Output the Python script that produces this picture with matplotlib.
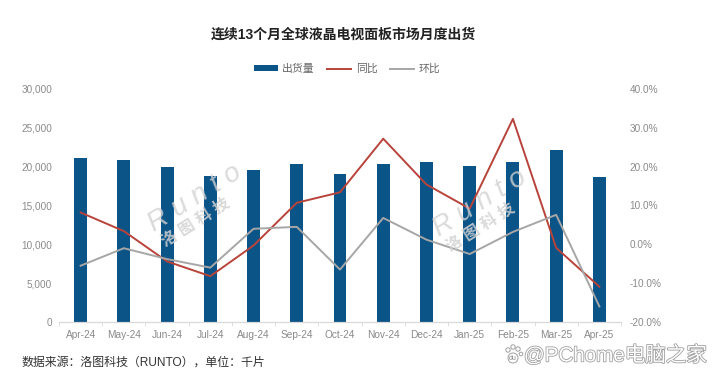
import matplotlib
matplotlib.use('Agg')
from matplotlib import pyplot as plt
from matplotlib import patheffects
from matplotlib.patches import Circle
from matplotlib.transforms import IdentityTransform

plt.rcParams['font.family'] = ['Liberation Sans', 'Noto Sans CJK SC', 'DejaVu Sans']

### chart data
months = ['Apr-24', 'May-24', 'Jun-24', 'Jul-24', 'Aug-24', 'Sep-24', 'Oct-24',
          'Nov-24', 'Dec-24', 'Jan-25', 'Feb-25', 'Mar-25', 'Apr-25']
shipments = [21100, 20860, 20000, 18800, 19530, 20380, 19060,
             20300, 20600, 20090, 20600, 22150, 18670]
yoy = [8.2, 3.4, -4.4, -8.2, -0.3, 10.7, 13.4, 27.2, 15.4, 9.2, 32.3, -0.9, -10.9]
mom = [-5.5, -1.0, -3.8, -6.0, 4.0, 4.5, -6.5, 6.8, 1.2, -2.5, 3.2, 7.6, -16.0]

left_ticks = [0, 5000, 10000, 15000, 20000, 25000, 30000]
right_ticks = [-20, -10, 0, 10, 20, 30, 40]

title = '连续13个月全球液晶电视面板市场月度出货'
source = '数据来源：洛图科技（RUNTO），单位：千片'

bar_color = '#0b5488'
red = '#b8433a'
gray = '#a6a6a6'
tick_color = '#8a8a8a'

fig = plt.figure(figsize=(7.2, 3.8), dpi=100)
ax = fig.add_axes([59 / 720, 1 - 322 / 380, 562 / 720, 233 / 380])
ax2 = ax.twinx()

# bars on the left axis, both lines on the right axis
ax.bar(months, shipments, width=0.3, color=bar_color, label='出货量', zorder=2)
ax2.plot(months, yoy, color=red, linewidth=1.4, label='同比', zorder=3)
ax2.plot(months, mom, color=gray, linewidth=1.4, label='环比', zorder=3)

ax.set_xlim(-0.5, 12.5)
ax.set_ylim(0, 30000)
ax2.set_ylim(-20, 40)
ax.set_yticks(left_ticks)
ax.set_yticklabels([f'{v:,}' for v in left_ticks])
ax2.set_yticks(right_ticks)
ax2.set_yticklabels([f'{v:.1f}%' for v in right_ticks])

for a in (ax, ax2):
    for side in ('top', 'left', 'right'):
        a.spines[side].set_visible(False)
    a.spines['bottom'].set_color('#d9d9d9')
    a.tick_params(axis='y', length=0, labelsize=7.2, labelcolor=tick_color, pad=5)
ax2.tick_params(axis='y', pad=6)

# axis ticks sit between the months
ax.set_xticks([i - 0.5 for i in range(14)], minor=True)
ax.tick_params(axis='x', which='minor', length=3, color='#d9d9d9')
ax.tick_params(axis='x', which='major', length=0, labelsize=7.3, labelcolor=tick_color, pad=6)

fig.text(343 / 720, 1 - 35 / 380, title, ha='center', va='center', fontsize=10,
         fontweight='bold', color='#222222')
fig.text(22 / 720, 1 - 363 / 380, source, ha='left', va='center', fontsize=8.6, color='#333333')

handles = ax.get_legend_handles_labels()[0] + ax2.get_legend_handles_labels()[0]
labels = ax.get_legend_handles_labels()[1] + ax2.get_legend_handles_labels()[1]
fig.legend(handles, labels, loc='center', bbox_to_anchor=(347 / 720, 1 - 69 / 380), ncol=3,
           frameon=False, fontsize=7.8, labelcolor='#666666', handlelength=2.2,
           handleheight=0.45, columnspacing=1.2, handletextpad=0.4)

# faint diagonal watermarks
for wx, wy in [(195, 198), (480, 203)]:
    fig.text(wx / 720, 1 - wy / 380, 'R u n t o', rotation=32, ha='center', va='center',
             rotation_mode='anchor', fontsize=20, style='italic', color='#d2d2d2', alpha=0.8, zorder=5)
    fig.text((wx + 1) / 720, 1 - (wy + 25) / 380, '洛 图 科 技', rotation=32, ha='center', va='center',
             rotation_mode='anchor', fontsize=11.5, color='#d2d2d2', alpha=0.85, fontweight='bold', zorder=5)

# site mark in the lower right corner
outline = [patheffects.withStroke(linewidth=1.2, foreground='#a0a0a0')]
fig.text(615 / 720, 1 - 355 / 380, '@PChome电脑之家', ha='center', va='center', fontsize=14.8,
         color='white', zorder=6, path_effects=outline)

# paw icon in front of the site mark
for px, py, r in [(508, 350, 2.2), (513, 347, 2.2), (518, 349, 2.2), (521, 354, 1.8), (513, 358, 5)]:
    fig.add_artist(Circle((px, 380 - py), r, transform=IdentityTransform(), facecolor='white',
                          edgecolor='#a0a0a0', linewidth=0.7, zorder=6))
fig.text(513 / 720, 1 - 358 / 380, 'du', ha='center', va='center', fontsize=5, color='#8a8a8a', zorder=7)

fig.savefig('out.png', dpi=100)
